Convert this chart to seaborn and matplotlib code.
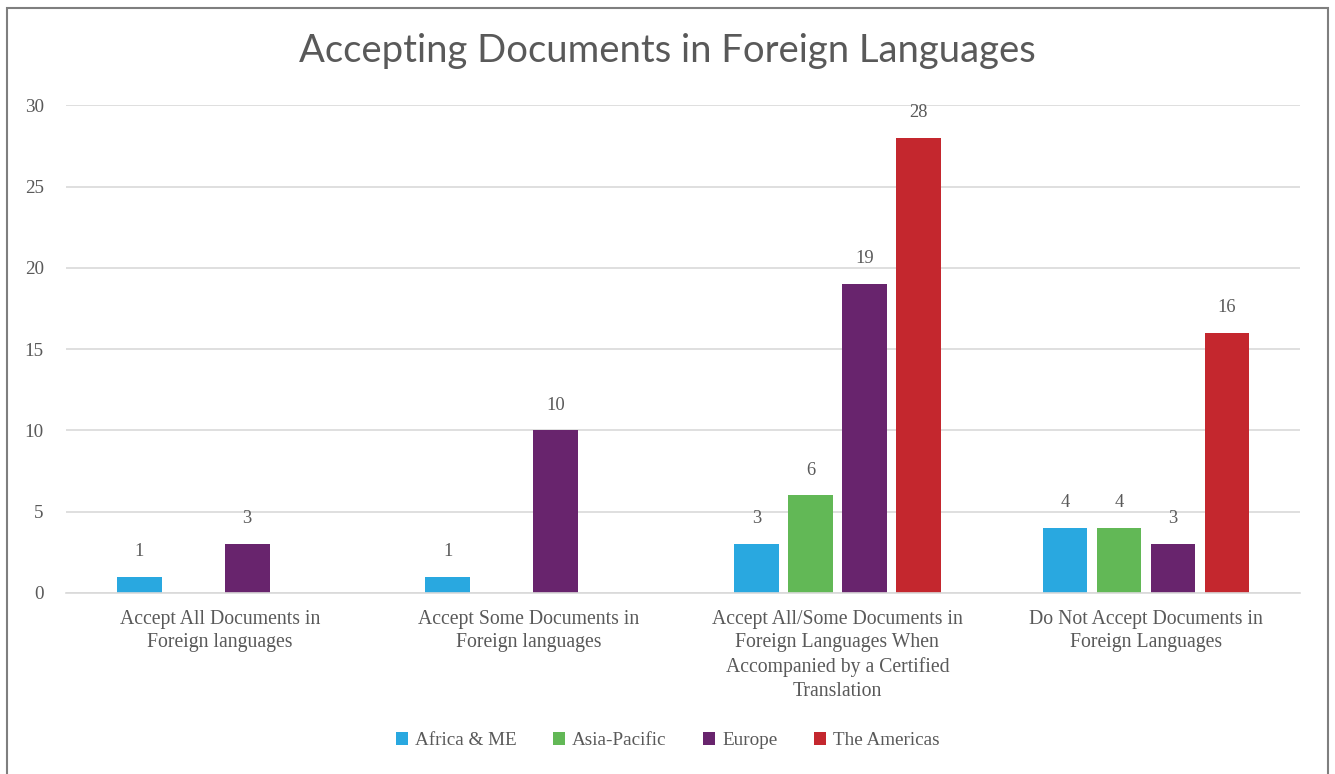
import pandas as pd
import matplotlib.pyplot as plt
import seaborn as sns
from matplotlib.patches import Rectangle

# data (0 = no bar)
categories = [
    "Accept All Documents in\nForeign languages",
    "Accept Some Documents in\nForeign languages",
    "Accept All/Some Documents in\nForeign Languages When\nAccompanied by a Certified\nTranslation",
    "Do Not Accept Documents in\nForeign Languages",
]
regions = ["Africa & ME", "Asia-Pacific", "Europe", "The Americas"]
africa_me = [1, 1, 3, 4]
asia_pacific = [0, 0, 6, 4]
europe = [3, 10, 19, 3]
americas = [0, 0, 28, 16]
colors = ["#29A8E0", "#62B856", "#68246D", "#C4272E"]


def main():
    df = pd.DataFrame({"Category": categories, regions[0]: africa_me, regions[1]: asia_pacific,
                       regions[2]: europe, regions[3]: americas})
    long = df.melt(id_vars="Category", var_name="Region", value_name="Count")

    sns.set_style("white")
    plt.rcParams["font.family"] = ["Liberation Serif", "DejaVu Serif"]
    text_col = "#595959"
    fs = 13.3

    fig = plt.figure(figsize=(13.35, 7.74), dpi=100)
    ax = fig.add_axes([0.0494, 0.234, 0.9246, 0.630])
    sns.barplot(data=long, x="Category", y="Count", hue="Region", hue_order=regions,
                palette=colors, saturation=1, width=0.7, gap=0.17, linewidth=0, ax=ax, legend=True)

    # value labels, skip empty bars
    for cont in ax.containers:
        labels = [f"{int(b.get_height())}" if b.get_height() > 0 else "" for b in cont]
        ax.bar_label(cont, labels=labels, padding=12, fontsize=fs, color=text_col)

    ax.set_ylim(0, 30)
    ax.set_yticks(range(0, 31, 5))
    ax.set_xlim(-0.5, 3.5)
    ax.yaxis.grid(True, color="#d9d9d9", linewidth=1.2)
    ax.set_axisbelow(True)
    for s in ["top", "right", "left"]:
        ax.spines[s].set_visible(False)
    ax.spines["bottom"].set_color("#d9d9d9")
    ax.spines["bottom"].set_linewidth(1.2)
    ax.tick_params(axis="y", length=0, pad=16, labelsize=fs + 0.5, labelcolor=text_col)
    ax.tick_params(axis="x", length=0, pad=12, labelsize=14.2, labelcolor=text_col)
    for t in ax.get_xticklabels():
        t.set_linespacing(1.33)
    ax.set_xlabel("")
    ax.set_ylabel("")

    fig.suptitle("Accepting Documents in Foreign Languages", y=0.958, fontsize=27.5,
                 color=text_col, family=["Lato", "DejaVu Sans"])

    ax.legend(loc="center", bbox_to_anchor=(0.5, 0.043), bbox_transform=fig.transFigure,
              ncol=4, frameon=False, handlelength=0.65, handleheight=0.65, handletextpad=0.35,
              columnspacing=1.9, fontsize=fs + 0.5, labelcolor=text_col)

    fig.patches.append(Rectangle((0.0052, -0.01), 0.9895, 1.0, transform=fig.transFigure,
                                 fill=False, edgecolor="#7f7f7f", linewidth=1.5))

    fig.savefig("out.png", dpi=100)


if __name__ == "__main__":
    main()
